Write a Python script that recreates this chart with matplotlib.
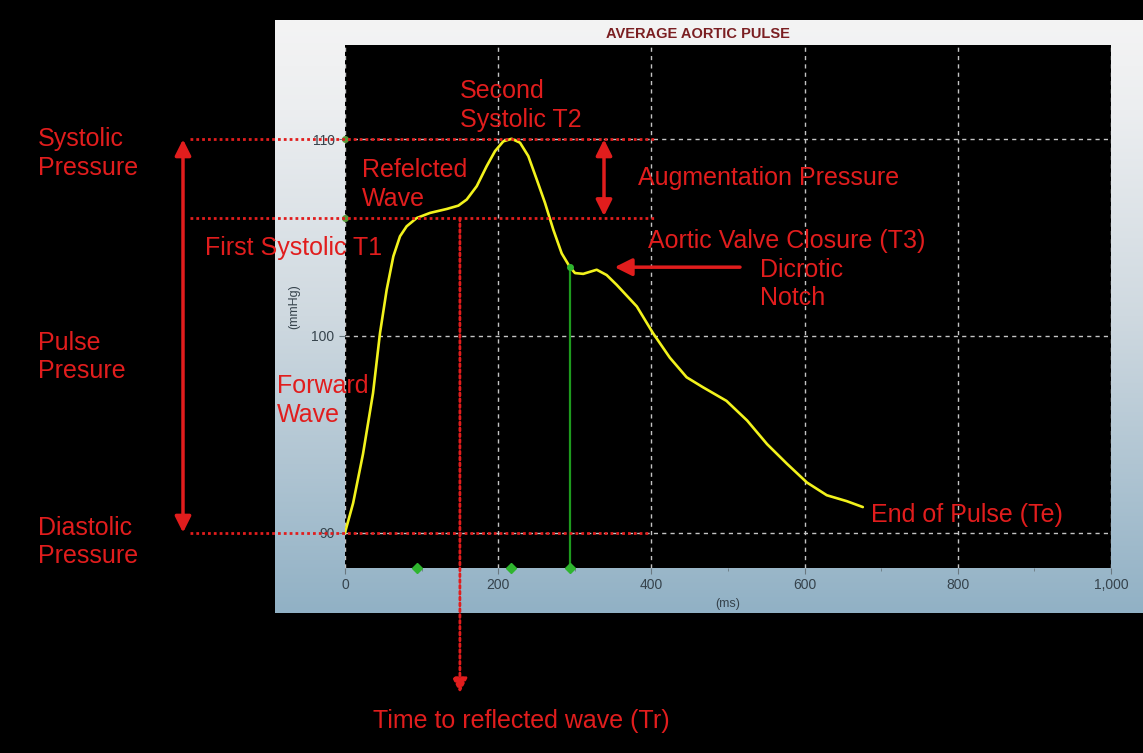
import matplotlib
matplotlib.use('Agg')
import matplotlib.pyplot as plt
import numpy as np
from matplotlib.colors import LinearSegmentedColormap
from matplotlib.transforms import blended_transform_factory
from matplotlib.ticker import FuncFormatter, MultipleLocator

# ---- averaged aortic pulse ----
time_ms = [0, 10.6, 23.5, 36.6, 45.7, 54.4, 63.1, 71.8, 80.5, 93.6,
           111, 132.8, 148, 158.9, 172, 185, 195.8, 206.7, 217.6, 228.5,
           239.3, 250.3, 261.1, 272, 282.9, 293.7, 300.3, 311, 328.6, 341.6,
           354.7, 381, 402, 424, 446, 467, 498, 525, 551, 577,
           603, 629, 655, 676]
pressure = [90, 91.5, 94.0, 97.1, 100.15, 102.35, 104.05, 105.07, 105.58, 106.0,
            106.26, 106.46, 106.63, 106.94, 107.62, 108.64, 109.4, 109.9, 110.03, 109.83,
            109.15, 107.96, 106.77, 105.4, 104.2, 103.5, 103.2, 103.16, 103.37, 103.1,
            102.6, 101.5, 100.15, 98.9, 97.9, 97.4, 96.7, 95.7, 94.5, 93.5,
            92.55, 91.9, 91.6, 91.3]

# key points of the pulse
systolic = 110
diastolic = 90
t1_pressure = 106
tr_ms = 150          # time to reflected wave
t3_ms = 294          # aortic valve closure
t3_pressure = 103.5
notch_ms = 352       # dicrotic notch hump (arrow tip)
marker_ms = [94, 217, 294]

x_ticks = [0, 200, 400, 600, 800, 1000]
y_ticks = [90, 100, 110]

W, H = 1143, 753
red = '#e11d1d'
green = '#2fb52f'
font = ['Liberation Sans', 'DejaVu Sans']
narrow = ['Liberation Sans Narrow', 'Liberation Sans', 'DejaVu Sans']

fig = plt.figure(figsize=(W / 100, H / 100), dpi=100, facecolor='black')

# background panel with the grey -> blue gradient
bg = fig.add_axes([0, 0, 1, 1], zorder=0)
bg.axis('off')
bg.patch.set_visible(False)
cmap = LinearSegmentedColormap.from_list(
    'panel', [(0, '#f4f4f4'), (0.15, '#eceef0'), (0.5, '#cfd9e0'), (1.0, '#91b1c5')])
grad = np.linspace(0, 1, 256).reshape(-1, 1)
bg.imshow(grad, extent=(275, W, 613, 20), aspect='auto', cmap=cmap, origin='upper')
bg.set_xlim(0, W)
bg.set_ylim(H, 0)

# main chart
ax = fig.add_axes([345 / W, 1 - 568 / H, (1111 - 345) / W, (568 - 45) / H], zorder=1)
ax.set_facecolor('black')
ax.set_xlim(0, 1000)
ax.set_ylim(88.2, 114.8)
y_lo = ax.get_ylim()[0]
for s in ax.spines.values():
    s.set_visible(False)
ax.set_xticks(x_ticks)
ax.set_yticks(y_ticks)
ax.xaxis.set_minor_locator(MultipleLocator(100))
ax.xaxis.set_major_formatter(FuncFormatter(lambda v, p: f'{v:,.0f}'))
ax.tick_params(colors='#6a7880', labelcolor='#36434c', labelsize=10, length=4, width=0.8)
ax.tick_params(which='minor', length=2, colors='#6a7880')
for lab in ax.get_xticklabels() + ax.get_yticklabels():
    lab.set_family(narrow)
ax.grid(True, color='#c4c4c4', linestyle=(0, (3, 3)), lw=1)
ax.set_xlabel('(ms)', fontsize=9, color='#36434c', family=narrow, labelpad=4)
ax.set_ylabel('(mmHg)', fontsize=9, color='#36434c', family=narrow, labelpad=8)

ax.plot(time_ms, pressure, color='#f2f21c', lw=1.9, zorder=4,
        solid_joinstyle='round', solid_capstyle='round')
ax.plot([t3_ms, t3_ms], [y_lo, t3_pressure], color='#1e9a1e', lw=1.6, zorder=3)
ax.plot([t3_ms], [t3_pressure], 'o', color=green, ms=4, zorder=5)
ax.plot(marker_ms, [y_lo] * len(marker_ms), 'D', color=green, ms=5, clip_on=False, zorder=5)
ax.plot([0, 0], [systolic, t1_pressure], 'o', color='#5a9a3a', ms=4, clip_on=False, zorder=5)

# overlay for the annotations (pixel coordinates)
ov = fig.add_axes([0, 0, 1, 1], zorder=2)
ov.set_xlim(0, W)
ov.set_ylim(H, 0)
ov.axis('off')
ov.patch.set_visible(False)
px_x = blended_transform_factory(ov.transData, ax.transData)   # x in px, y in mmHg
px_y = blended_transform_factory(ax.transData, ov.transData)   # x in ms, y in px

ov.text(698, 34, 'AVERAGE AORTIC PULSE', ha='center', va='center', fontsize=10.5,
        fontweight='bold', color='#7b1f22', family=narrow)

dots = dict(color=red, lw=2, linestyle=(0, (1, 1.1)))
for level, x_end in [(systolic, 655), (t1_pressure, 655), (diastolic, 648)]:
    ov.plot([190, x_end], [level, level], transform=px_x, **dots)

# pulse pressure arrow
ov.annotate('', xy=(183, systolic), xycoords=px_x, xytext=(183, diastolic), textcoords=px_x,
            arrowprops=dict(arrowstyle='<|-|>', color=red, lw=2.5, mutation_scale=24,
                            shrinkA=0, shrinkB=0))
# augmentation pressure arrow
ov.annotate('', xy=(604, systolic), xycoords=px_x, xytext=(604, t1_pressure + 0.1), textcoords=px_x,
            arrowprops=dict(arrowstyle='<|-|>', color=red, lw=2.5, mutation_scale=24,
                            shrinkA=0, shrinkB=0))
# dicrotic notch arrow
ov.annotate('', xy=(notch_ms, t3_pressure), xycoords=ax.transData,
            xytext=(740, t3_pressure), textcoords=px_x,
            arrowprops=dict(arrowstyle='-|>', color=red, lw=2.5, mutation_scale=26,
                            shrinkA=0, shrinkB=0))
# time to reflected wave
ov.annotate('', xy=(tr_ms, 693), xycoords=px_y, xytext=(tr_ms, t1_pressure), textcoords=ax.transData,
            arrowprops=dict(arrowstyle='-|>', color=red, lw=2, linestyle=(0, (1, 1.1)),
                            mutation_scale=22, shrinkA=0, shrinkB=0))

labels = [
    (38, [146, 175], ['Systolic', 'Pressure']),
    (38, [350, 378], ['Pulse', 'Presure']),
    (38, [535, 563], ['Diastolic', 'Pressure']),
    (205, [255], ['First Systolic T1']),
    (362, [177, 206], ['Refelcted', 'Wave']),
    (460, [98, 127], ['Second', 'Systolic T2']),
    (638, [185], ['Augmentation Pressure']),
    (648, [248], ['Aortic Valve Closure (T3)']),
    (760, [277, 305], ['Dicrotic', 'Notch']),
    (277, [393, 422], ['Forward', 'Wave']),
    (871, [522], ['End of Pulse (Te)']),
    (373, [728], ['Time to reflected wave (Tr)']),
]
for x, ys, lines in labels:
    for y, line in zip(ys, lines):
        ov.text(x, y, line, ha='left', va='baseline', fontsize=18, color=red, family=font)

fig.savefig('out.png', dpi=100, facecolor='black')
